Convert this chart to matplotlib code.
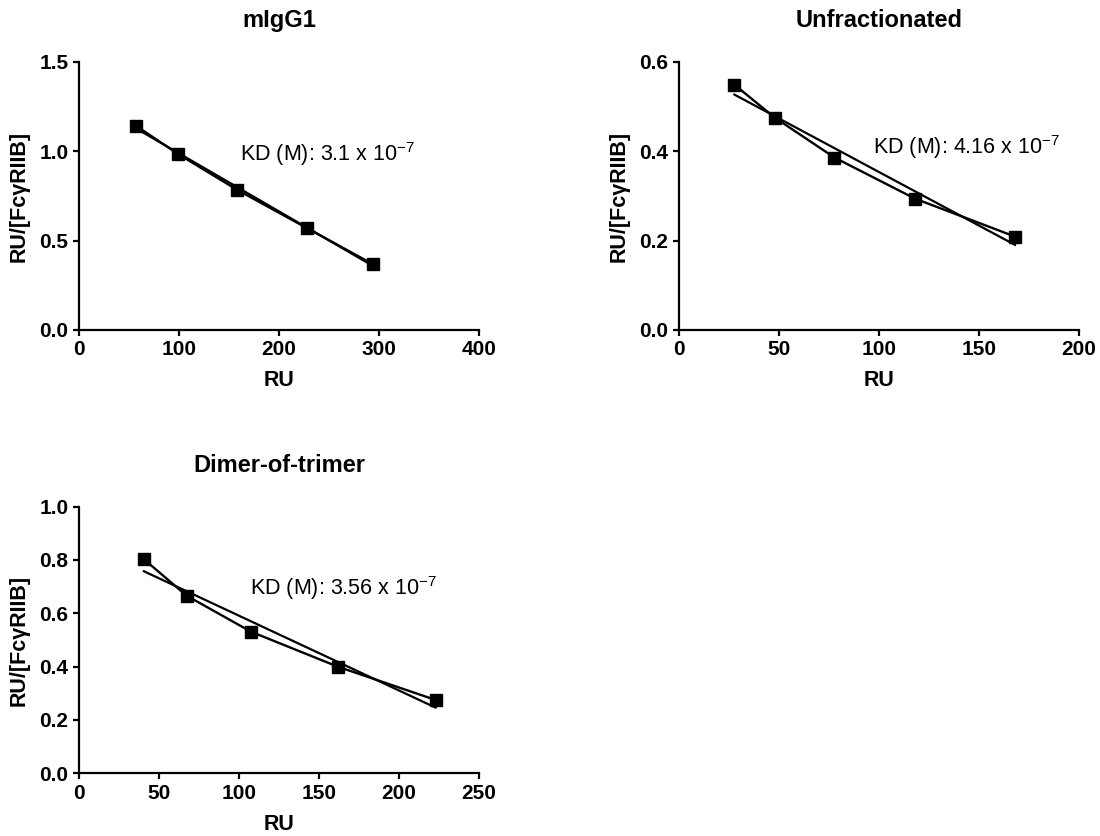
import numpy as np
import matplotlib
matplotlib.use("Agg")
import matplotlib.pyplot as plt

plt.rcParams['font.family'] = ['Liberation Sans', 'DejaVu Sans']
plt.rcParams['mathtext.fontset'] = 'custom'
plt.rcParams['mathtext.rm'] = 'Liberation Sans'
plt.rcParams['mathtext.it'] = 'Liberation Sans:italic'
plt.rcParams['mathtext.bf'] = 'Liberation Sans:bold'

# Scatchard data
titles = ["mIgG1", "Unfractionated", "Dimer-of-trimer"]

ru_migg1 = [57, 99, 158, 228, 294]
ratio_migg1 = [1.143, 0.985, 0.785, 0.570, 0.368]

ru_unfrac = [27.7, 48, 77.7, 118, 168]
ratio_unfrac = [0.549, 0.475, 0.386, 0.294, 0.209]

ru_dimer = [40.6, 67.3, 107.5, 161.7, 222.9]
ratio_dimer = [0.8025, 0.666, 0.531, 0.400, 0.275]

kd_labels = ["3.1", "4.16", "3.56"]
xlims = [400, 200, 250]
ylims = [1.5, 0.6, 1.0]
xticks = [[0, 100, 200, 300, 400], [0, 50, 100, 150, 200], [0, 50, 100, 150, 200, 250]]
yticks = [[0.0, 0.5, 1.0, 1.5], [0.0, 0.2, 0.4, 0.6], [0.0, 0.2, 0.4, 0.6, 0.8, 1.0]]
kd_pos = [(161, 0.943), (97, 0.395), (107, 0.67)]

fig = plt.figure(figsize=(11, 8.36), dpi=100)
rects = [[0.0718, 0.6053, 0.3636, 0.3206],
         [0.6173, 0.6053, 0.3636, 0.3206],
         [0.0718, 0.0750, 0.3636, 0.3190]]

datasets = [(ru_migg1, ratio_migg1), (ru_unfrac, ratio_unfrac), (ru_dimer, ratio_dimer)]

for i, (x, y) in enumerate(datasets):
    ax = fig.add_axes(rects[i])
    x = np.array(x)
    y = np.array(y)
    # linear fit over data range
    k, b = np.polyfit(x, y, 1)
    ax.plot([x.min(), x.max()], [k * x.min() + b, k * x.max() + b], color='black', lw=1.6, clip_on=False)
    ax.plot(x, y, color='black', lw=1.7, marker='s', markersize=8, clip_on=False)

    ax.set_xlim(0, xlims[i])
    ax.set_ylim(0, ylims[i])
    ax.set_xticks(xticks[i])
    ax.set_yticks(yticks[i])
    ax.set_yticklabels([f"{v:.1f}" for v in yticks[i]])
    ax.spines['top'].set_visible(False)
    ax.spines['right'].set_visible(False)
    for s in ['left', 'bottom']:
        ax.spines[s].set_linewidth(1.6)
    ax.tick_params(width=1.6, length=4.5, labelsize=15, pad=3)
    for lab in ax.get_xticklabels() + ax.get_yticklabels():
        lab.set_fontweight('bold')

    ax.set_title(titles[i], fontsize=17, fontweight='bold', pad=25)
    ax.set_xlabel("RU", fontsize=15.5, fontweight='bold', labelpad=8)
    ax.set_ylabel("RU/[FcγRIIB]", fontsize=15.5, fontweight='bold', labelpad=7)

    tx, ty = kd_pos[i]
    ax.text(tx, ty, "KD (M): " + kd_labels[i] + r" x 10$^{-7}$", fontsize=15.5)

fig.savefig("out.png", dpi=100)
